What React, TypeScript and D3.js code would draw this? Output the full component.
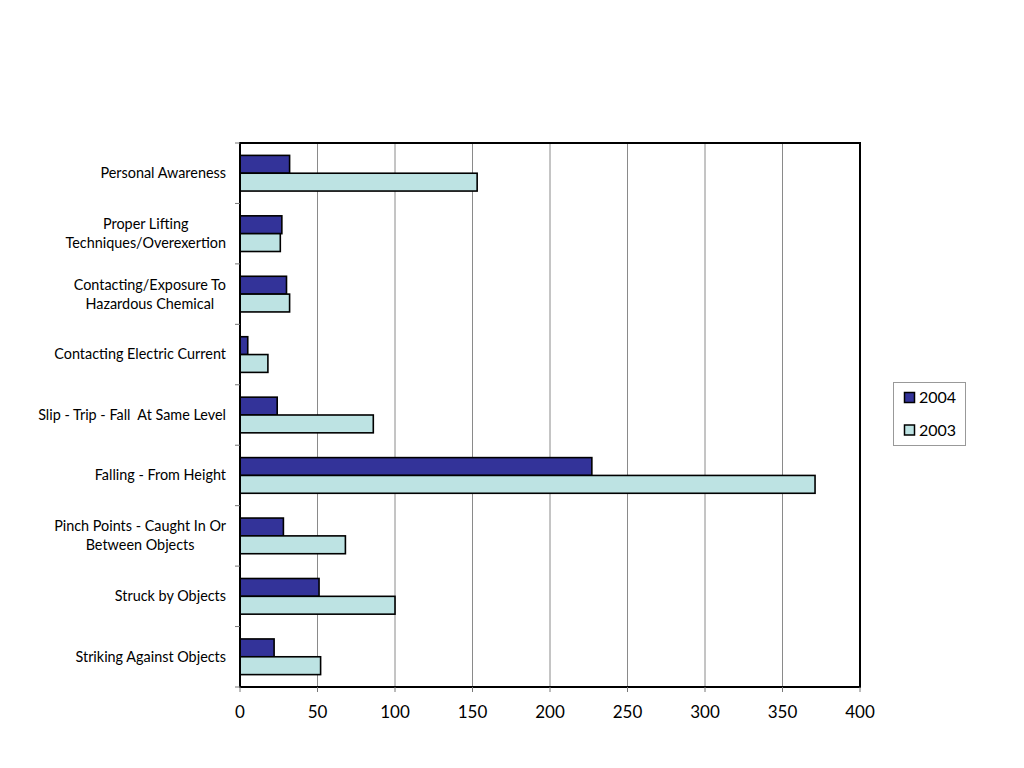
import React from "react";
import * as d3 from "d3";

const categories: string[][] = [
  ["Personal Awareness"],
  ["Proper Lifting", "Techniques/Overexertion"],
  ["Contacting/Exposure To", "Hazardous Chemical"],
  ["Contacting Electric Current"],
  ["Slip - Trip - Fall  At Same Level"],
  ["Falling - From Height"],
  ["Pinch Points - Caught In Or", "Between Objects"],
  ["Struck by Objects"],
  ["Striking Against Objects"],
];
const values2004 = [32, 27, 30, 5, 24, 227, 28, 51, 22];
const values2003 = [153, 26, 32, 18, 86, 371, 68, 100, 52];
const seriesNames = ["2004", "2003"];
const seriesColors = ["#333399", "#BDE3E3"];
const xTicks = [0, 50, 100, 150, 200, 250, 300, 350, 400];

export default function App() {
  const W = 1024, H = 768;
  const left = 240, right = 860, top = 143, bottom = 687;
  const x = d3.scaleLinear().domain([0, 400]).range([left, right]);
  const idx = categories.map((_, i) => String(i));
  const y = d3.scaleBand().domain(idx).range([top, bottom]).paddingInner(0).paddingOuter(0);
  const bw = y.bandwidth();
  const inner = d3.scaleBand().domain(seriesNames).range([bw * 0.205, bw * 0.795]);
  const series = [values2004, values2003];
  const font = "Lato, 'Open Sans', sans-serif";

  return (
    <svg width={W} height={H} style={{ position: "absolute", left: 0, top: 0, background: "#fff" }}>
      {xTicks.slice(1, -1).map((t) => (
        <line key={"g" + t} x1={x(t)} x2={x(t)} y1={top} y2={bottom} stroke="#8a8a8a" strokeWidth={1} />
      ))}
      {categories.map((_, i) =>
        series.map((vals, s) => (
          <rect
            key={`b${i}-${s}`}
            x={x(0)}
            y={(y(String(i)) as number) + (inner(seriesNames[s]) as number)}
            width={x(vals[i]) - x(0)}
            height={inner.bandwidth()}
            fill={seriesColors[s]}
            stroke="#000"
            strokeWidth={1.6}
          />
        ))
      )}
      <rect x={left} y={top} width={right - left} height={bottom - top} fill="none" stroke="#000" strokeWidth={2} />
      {d3.range(categories.length + 1).map((i) => {
        const yy = top + i * bw;
        return <line key={"lt" + i} x1={left - 5} x2={left} y1={yy} y2={yy} stroke="#777" strokeWidth={1} />;
      })}
      {xTicks.map((t) => (
        <line key={"bt" + t} x1={x(t)} x2={x(t)} y1={bottom} y2={bottom + 5} stroke="#777" strokeWidth={1} />
      ))}
      {xTicks.map((t) => (
        <text key={"xl" + t} x={x(t)} y={718} textAnchor="middle" fontFamily={font} fontSize={17} fill="#000">
          {t}
        </text>
      ))}
      {categories.map((lines, i) => {
        const cy = (y(String(i)) as number) + bw / 2;
        const fs = 14.4;
        const lh = 19;
        return (
          <g key={"cl" + i}>
            {lines.map((l, j) => {
              const yy = cy + (j - (lines.length - 1) / 2) * lh + fs * 0.34;
              return (
                <text
                  key={j}
                  x={lines.length === 1 ? 226 : 0}
                  y={yy}
                  textAnchor={lines.length === 1 ? "end" : "middle"}
                  fontFamily={font}
                  fontSize={fs}
                  fill="#000"
                  style={{ whiteSpace: "pre" }}
                  ref={
                    lines.length === 1
                      ? undefined
                      : (el) => {
                          if (!el) return;
                          const g = el.parentNode as SVGGElement;
                          const texts = Array.from(g.querySelectorAll("text")) as SVGTextElement[];
                          const widths = texts.map((t) => t.getComputedTextLength());
                          const mw = Math.max(...widths);
                          texts.forEach((t) => t.setAttribute("x", String(226 - mw / 2)));
                        }
                  }
                >
                  {l}
                </text>
              );
            })}
          </g>
        );
      })}
      <rect x={893.5} y={382.5} width={72} height={63} fill="#fff" stroke="#999" strokeWidth={1} />
      {seriesNames.map((n, s) => {
        const cy = 397.5 + s * 32.5;
        return (
          <g key={"lg" + n}>
            <rect x={904.5} y={cy - 5} width={10} height={10} fill={seriesColors[s]} stroke="#000" strokeWidth={1.5} />
            <text x={919} y={cy + 5.5} fontFamily={font} fontSize={16} fill="#000">
              {n}
            </text>
          </g>
        );
      })}
    </svg>
  );
}
